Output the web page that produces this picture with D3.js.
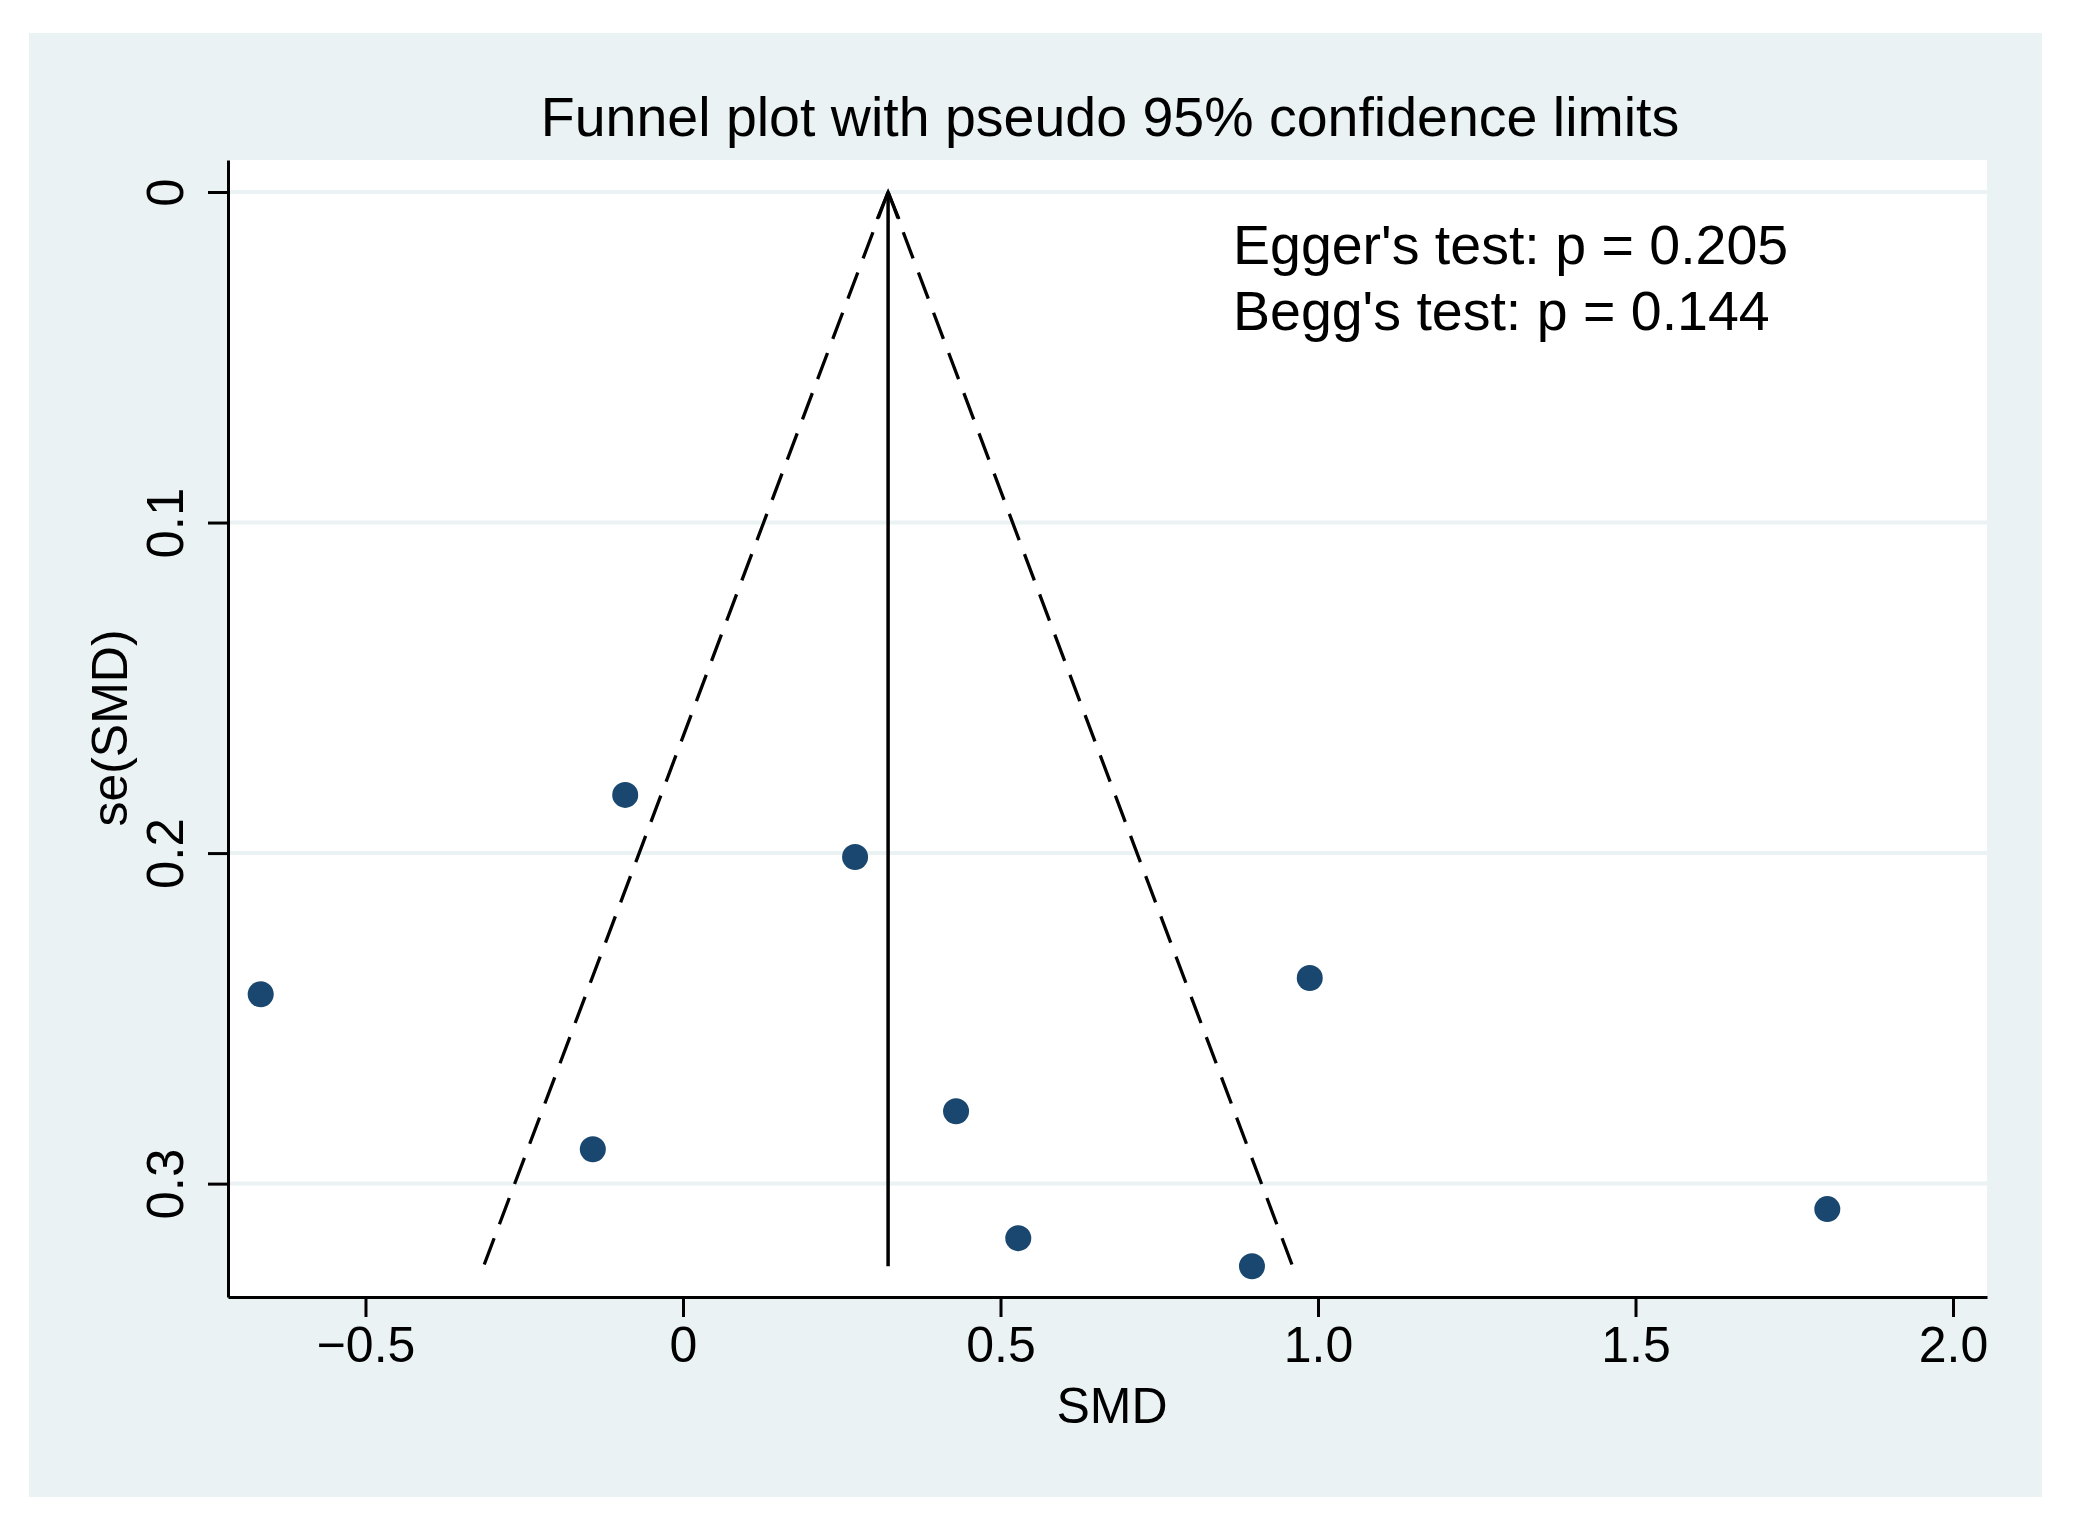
<!DOCTYPE html>
<html>
<head>
<meta charset="utf-8">
<script src="https://cdn.jsdelivr.net/npm/d3@7"></script>
<style>
  body { margin: 0; background: #ffffff; }
  svg { display: block; }
  text { font-family: Arial, "Liberation Sans", Helvetica, sans-serif; fill: #000; }
</style>
</head>
<body>
<svg id="chart" width="2075" height="1525"></svg>
<script>

// study effect sizes and their standard errors
var smd = [-0.665, -0.091, 0.271, 0.987, -0.142, 0.430, 0.528, 0.896, 1.802];
var seSmd = [0.2427, 0.1824, 0.2012, 0.2378, 0.2896, 0.2781, 0.3165, 0.3250, 0.3077];

// pooled estimate (vertical line)
var pooled = 0.323;

var xTicks = [-0.5, 0, 0.5, 1.0, 1.5, 2.0];
var xTickLabels = ["\u22120.5", "0", "0.5", "1.0", "1.5", "2.0"];
var yTicks = [0, 0.1, 0.2, 0.3];
var yTickLabels = ["0", "0.1", "0.2", "0.3"];

var titleText = "Funnel plot with pseudo 95% confidence limits";
var notes = ["Egger's test: p = 0.205", "Begg's test: p = 0.144"];

var bgColor = "#eaf2f3";
var dotColor = "#1a476f";

var svg = d3.select("#chart");

var plot = {left: 228, right: 1987, top: 160, bottom: 1297};

var x = d3.scaleLinear().domain([-0.7165, 2.0535]).range([plot.left, plot.right]);
var y = d3.scaleLinear().domain([-0.00968, 0.3343]).range([plot.top, plot.bottom]);

// graph region
svg.append("rect")
    .attr("x", 29).attr("y", 33)
    .attr("width", 2042 - 29).attr("height", 1497 - 33)
    .style("fill", bgColor);

// plot region
svg.append("rect")
    .attr("x", plot.left).attr("y", plot.top)
    .attr("width", plot.right - plot.left).attr("height", plot.bottom - plot.top)
    .style("fill", "#ffffff");

// gridlines
svg.append("g").selectAll("line")
    .data(yTicks)
    .enter().append("line")
    .attr("x1", plot.left).attr("x2", plot.right)
    .attr("y1", function(d){ return y(d); })
    .attr("y2", function(d){ return y(d); })
    .style("stroke", bgColor)
    .style("stroke-width", 4);

// pseudo 95% limits
var maxSe = d3.max(seSmd);
var limits = [pooled - 1.96 * maxSe, pooled + 1.96 * maxSe];

svg.append("g").selectAll("line")
    .data(limits)
    .enter().append("line")
    .attr("x1", x(pooled)).attr("y1", y(0))
    .attr("x2", function(d){ return x(d); })
    .attr("y2", y(maxSe))
    .style("stroke", "#000")
    .style("stroke-width", 3.3)
    .style("stroke-dasharray", "28,15");

// pooled line with open arrow head at se = 0
svg.append("line")
    .attr("x1", x(pooled)).attr("y1", y(maxSe))
    .attr("x2", x(pooled)).attr("y2", y(0))
    .style("stroke", "#000")
    .style("stroke-width", 3.5);

svg.append("path")
    .attr("d", "M " + (x(pooled) - 11) + " " + (y(0) + 27)
        + " L " + x(pooled) + " " + y(0)
        + " L " + (x(pooled) + 11) + " " + (y(0) + 27))
    .style("fill", "none")
    .style("stroke", "#000")
    .style("stroke-width", 3);

// studies
svg.append("g").selectAll("circle")
    .data(smd)
    .enter().append("circle")
    .attr("cx", function(d){ return x(d); })
    .attr("cy", function(d, i){ return y(seSmd[i]); })
    .attr("r", 13)
    .style("fill", dotColor);

// y axis
var yAxis = svg.append("g")
    .attr("transform", "translate(" + plot.left + ",0)")
    .call(d3.axisLeft(y)
        .tickValues(yTicks)
        .tickSize(20)
        .tickSizeOuter(0)
        .tickFormat(function(d, i){ return yTickLabels[i]; }));

yAxis.select(".domain").style("stroke-width", 3);
yAxis.selectAll(".tick line").style("stroke-width", 3);
yAxis.selectAll(".tick text")
    .attr("transform", "rotate(-90)")
    .attr("x", 0)
    .attr("y", -45)
    .attr("dy", 0)
    .attr("text-anchor", "middle")
    .style("font-size", "51px")
    .style("font-family", "Arial, 'Liberation Sans', sans-serif");

// x axis
var xAxis = svg.append("g")
    .attr("transform", "translate(0," + plot.bottom + ")")
    .call(d3.axisBottom(x)
        .tickValues(xTicks)
        .tickSize(20)
        .tickSizeOuter(0)
        .tickFormat(function(d, i){ return xTickLabels[i]; }));

xAxis.select(".domain").style("stroke-width", 3);
xAxis.selectAll(".tick line").style("stroke-width", 3);
xAxis.selectAll(".tick text")
    .attr("y", 65)
    .attr("dy", 0)
    .style("font-size", "50px")
    .style("font-family", "Arial, 'Liberation Sans', sans-serif");

// titles
svg.append("text")
    .attr("x", 1110).attr("y", 136)
    .attr("text-anchor", "middle")
    .style("font-size", "55.5px")
    .text(titleText);

svg.append("text")
    .attr("x", 1112).attr("y", 1423)
    .attr("text-anchor", "middle")
    .style("font-size", "50px")
    .text("SMD");

svg.append("text")
    .attr("transform", "translate(127,728) rotate(-90)")
    .attr("text-anchor", "middle")
    .style("font-size", "50px")
    .text("se(SMD)");

// test results
svg.append("g").selectAll("text")
    .data(notes)
    .enter().append("text")
    .attr("x", 1233)
    .attr("y", function(d, i){ return 264 + i * 66; })
    .style("font-size", "55.5px")
    .text(function(d){ return d; });

</script>
</body>
</html>
